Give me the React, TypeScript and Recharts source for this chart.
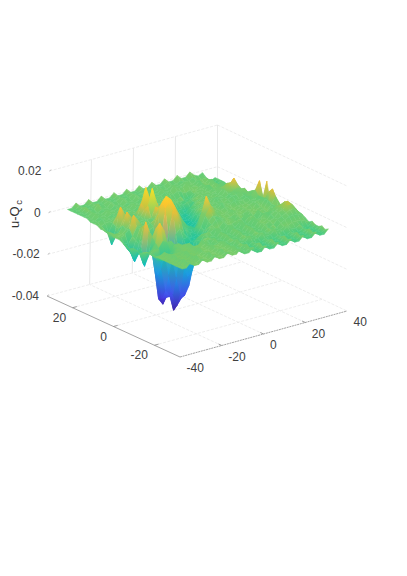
import React from "react";
import { ScatterChart, Scatter, XAxis, YAxis, ReferenceLine } from "recharts";

const W = 407;
const H = 576;

const xValues = [-35,-33,-31,-29,-27,-25,-23,-21,-19,-17,-15,-13,-11,-9,-7,-5,-3,-1,1,3,5,7,9,11,13,15,17,19,21,23,25,27,29,31,33,35];
const yValues = [28.44,26.81,25.19,23.56,21.94,20.31,18.69,17.06,15.44,13.81,12.19,10.56,8.94,7.31,5.69,4.06,2.44,0.81,-0.81,-2.44,-4.06,-5.69,-7.31,-8.94,-10.56,-12.19,-13.81,-15.44,-17.06,-18.69,-20.31,-21.94,-23.56,-25.19,-26.81,-28.44];
// surface height, in thousandths, one row per y value
const zRows = [
[2,2,4,2,2,4,2,2,4,2,2,4,2,2,4,2,2,4,2,2,4,2,2,4,2,2,4,2,2,4,2,1,2,-1,-3,-2],
[2,2,3,2,2,3,2,2,3,2,2,3,2,2,3,2,2,3,2,2,3,2,2,3,1,1,2,1,1,2,0,0,0,-2,-3,-2],
[2,2,3,2,2,3,2,2,3,2,2,3,2,2,3,2,2,3,1,1,2,1,1,2,1,1,2,0,0,1,0,-1,0,-2,-3,-2],
[2,2,4,2,2,4,1,1,3,1,1,3,1,1,3,1,1,3,1,1,3,1,1,3,1,1,3,0,0,2,-1,-1,1,-3,-4,-2],
[2,2,3,1,1,2,1,1,2,1,1,2,1,1,2,1,1,2,1,1,2,1,0,1,0,-1,0,-1,0,1,-1,-1,0,-3,-4,-3],
[2,2,3,1,1,2,1,1,2,1,1,2,1,1,2,1,1,2,1,0,1,-1,-2,-1,-3,-3,-1,0,0,1,-1,-1,0,-3,-4,-3],
[2,1,3,1,1,3,1,1,3,1,1,3,1,1,3,1,1,3,0,0,1,-1,-2,-2,-3,-2,0,0,0,2,0,0,2,-2,-3,-2],
[1,1,2,1,1,2,1,1,2,1,1,2,1,1,2,1,1,1,0,-1,0,-2,-3,-2,-2,-1,0,0,0,1,0,1,2,-3,-4,-3],
[1,1,2,1,1,2,0,0,1,0,1,2,1,1,1,1,0,-1,-2,-3,-3,-4,-5,-4,-2,-1,0,0,0,1,1,2,2,-1,-3,-4],
[1,0,1,1,2,2,1,0,2,1,3,3,1,1,3,0,0,-1,-3,-4,-5,-5,-3,-2,-1,0,1,0,1,3,3,4,3,0,-2,-3],
[0,-1,-3,1,4,3,1,1,2,4,8,5,3,1,1,0,-1,-2,-5,-6,-6,-5,-3,-2,-1,0,0,0,1,3,5,5,3,0,-2,-4],
[0,-2,-8,0,9,5,2,1,2,8,15,9,3,1,1,0,-1,-3,-5,-6,-6,-5,-2,-1,0,0,1,1,1,3,5,8,4,0,-2,-4],
[0,-1,-4,0,4,3,2,2,3,6,9,6,3,1,2,-1,-3,-5,-7,-7,-6,-3,-1,0,0,0,2,1,1,2,3,4,3,0,-2,-3],
[0,-1,-1,2,8,5,2,2,2,8,16,9,4,2,1,0,-2,-4,-6,-7,-6,-3,-1,0,0,1,1,0,1,2,2,3,4,1,-1,-2],
[-1,-1,-1,1,3,3,1,2,3,3,8,4,5,3,2,-1,-3,-5,-7,-7,-5,-2,0,0,0,1,1,0,0,1,1,2,3,3,2,-2],
[-1,-1,0,2,8,5,2,1,2,3,8,11,9,5,3,-1,-4,-5,-6,-7,-5,0,1,-1,0,2,0,0,2,1,1,2,2,4,8,-2],
[-1,-3,-4,-1,3,3,1,0,1,6,11,14,12,8,4,0,-3,-4,-5,-5,-1,1,1,0,0,1,0,-1,0,0,0,1,1,2,0,8],
[-2,-5,-8,-2,3,3,1,-6,-10,-6,9,12,10,4,0,-3,-4,-4,-1,1,1,1,0,-1,-1,0,-1,-1,0,-1,0,1,1,2,1,-1],
[-2,-6,-11,-3,5,2,-6,-20,-28,-18,-2,8,7,2,-2,-4,-5,-2,4,11,6,3,1,-1,0,1,0,-1,0,-1,-1,1,-1,2,5,1],
[-3,-9,-7,0,6,-3,-16,-31,-34,-29,-13,-2,0,-3,-5,-6,-5,-2,3,6,4,2,0,-1,-1,0,-1,-1,0,-1,-1,0,-1,2,7,1],
[-2,-4,-3,9,3,-6,-18,-30,-30,-30,-24,-11,-4,-4,-6,-6,-5,-3,1,3,2,1,0,-1,-2,0,-1,-2,0,-1,-1,0,-1,1,4,0],
[-2,-5,-11,5,2,-4,-14,-25,-28,-36,-33,-20,-7,-5,-5,-5,-4,-1,0,2,2,0,-1,1,-1,-1,1,-1,-1,1,-1,-1,1,1,-1,-1],
[-3,-9,-6,3,7,1,-7,-17,-27,-33,-30,-26,-11,-5,-3,-3,-2,0,-1,-1,1,-1,-1,0,-2,-2,0,-2,-2,0,-2,-1,1,1,1,0],
[-2,-3,-2,1,10,6,-3,-8,-18,-26,-28,-24,-12,-3,-1,-1,-1,0,-2,-2,0,-2,-2,0,-2,-2,0,-2,-1,1,1,2,2,3,1,0],
[-1,-2,-1,-1,2,1,1,-4,-8,-14,-18,-16,-9,-3,0,-2,-2,1,-2,-2,1,-2,-2,1,-2,-2,1,-1,0,2,2,4,4,5,3,1],
[-1,-3,-5,-6,-5,-3,0,0,-3,-7,-10,-9,-5,-1,-1,-2,-2,0,-2,-2,0,-2,-2,0,-2,-2,0,-1,0,2,3,4,5,6,4,1],
[-1,-2,-3,-4,-4,-2,0,0,0,-3,-4,-3,-1,-1,-1,-2,-2,0,-2,-2,0,-2,-2,0,-2,-2,0,-1,0,1,3,4,5,5,3,0],
[-1,-1,0,-2,-2,0,-1,-1,1,-1,-1,1,-2,-2,0,-2,-2,0,-2,-2,0,-2,-2,0,-2,-2,0,-2,-1,1,2,3,4,4,2,0],
[-1,-1,0,-1,-1,0,-1,-1,0,-1,-1,0,-2,-2,-1,-2,-2,-1,-2,-2,-1,-2,-2,-1,-2,-2,-1,-2,-2,0,1,2,2,2,1,-1],
[-1,-1,0,-1,-1,0,-1,-1,0,-1,-1,0,-1,-1,0,-2,-2,-1,-2,-2,-1,-2,-2,-1,-2,-2,-1,-2,-2,-1,-1,0,0,0,-1,-2],
[-1,-1,1,-1,-1,1,-1,-1,1,-1,-1,1,-1,-1,1,-2,-2,0,-2,-2,0,-2,-2,0,-2,-2,0,-2,-2,0,-2,-2,-1,-3,-3,-1],
[-1,-1,0,-1,-1,0,-1,-1,0,-1,-1,0,-1,-1,0,-2,-2,-1,-3,-3,-2,-3,-3,-2,-3,-3,-2,-3,-3,-2,-3,-3,-2,-3,-3,-2],
[-1,-1,0,-1,-1,0,-1,-1,0,-1,-1,0,-1,-1,0,-2,-2,-1,-3,-3,-2,-3,-3,-2,-3,-3,-2,-3,-3,-2,-3,-3,-2,-3,-3,-2],
[-1,-1,1,-1,-1,1,-1,-1,1,-1,-1,1,-1,-1,1,-2,-2,0,-3,-3,-1,-3,-3,-1,-3,-3,-1,-3,-3,-1,-3,-3,-1,-3,-3,-1],
[-1,-1,0,-1,-1,0,-1,-1,0,-1,-1,0,-1,-1,0,-2,-2,-1,-3,-3,-2,-3,-3,-2,-3,-3,-2,-3,-3,-2,-3,-3,-2,-3,-3,-2],
[-1,-1,1,-1,-1,1,-1,-1,1,-1,-1,1,-1,-1,1,-2,-2,0,-3,-3,-1,-3,-3,-1,-3,-3,-1,-3,-3,-1,-3,-3,-1,-3,-3,-1],
];

const xTicks = [-40, -20, 0, 20, 40];
const yTicks = [-20, 0, 20];
const zTicks = [-0.04, -0.02, 0, 0.02];
const zTickLabels = ["-0.04", "-0.02", "0", "0.02"];
const xTickLabels = ["-40", "-20", "0", "20", "40"];
const yTickLabels = ["-20", "0", "20"];
const Y_LOW = -32.5;
const Y_HIGH = 32.5;

const colourLevels = [-36,-30,-24,-18,-12,-7,-3,-1,2,4,5.5,7,9,12,15,17];
const colourStops: number[][] = [
  [62,38,168],[70,60,225],[60,110,245],[30,150,235],[10,185,205],[25,195,165],
  [75,203,128],[120,204,106],[100,205,118],[125,204,105],[175,198,70],[225,190,55],[250,190,50],[254,200,45],[253,215,40],[250,235,30],
];
function colour(zk: number): string {
  let i = 0;
  while (i < colourLevels.length - 2 && zk > colourLevels[i + 1]) i++;
  const f = Math.max(0, Math.min(1, (zk - colourLevels[i]) / (colourLevels[i + 1] - colourLevels[i])));
  const c = colourStops[i].map((v, k) => Math.round(v + (colourStops[i + 1][k] - v) * f));
  return `rgb(${c[0]},${c[1]},${c[2]})`;
}

// floor corners of the plot box in chart coordinates and the height scale
const FRONT = [180, 357];
const RIGHT = [347, 311];
const LEFT = [47, 296];
const BACK = [217.5, 250];
const Z_SCALE = 2083;
function project(x: number, y: number, z: number) {
  const u = (x + 40) / 80;
  const v = (y - Y_LOW) / (Y_HIGH - Y_LOW);
  const bi = (k: number) =>
    FRONT[k] * (1 - u) * (1 - v) + RIGHT[k] * u * (1 - v) + LEFT[k] * (1 - u) * v + BACK[k] * u * v;
  return { sx: bi(0) + (1 - u) * v * (z + 0.04) * 40, sy: bi(1) - (z + 0.04) * Z_SCALE };
}

type Cell = { sx: number; sy: number; d: number[]; zs: number[]; id: string };
const cells: Cell[] = [];
for (let j = 0; j < yValues.length - 1; j++) {
  for (let i = xValues.length - 2; i >= 0; i--) {
    const corners = [[i, j], [i + 1, j], [i + 1, j + 1], [i, j + 1]];
    const zs = corners.map(([a, b]) => zRows[b][a]);
    const pts = corners.map(([a, b]) => project(xValues[a], yValues[b], zRows[b][a] / 1000));
    const d: number[] = [];
    pts.forEach((p) => d.push(p.sx - pts[0].sx, p.sy - pts[0].sy));
    cells.push({ sx: pts[0].sx, sy: pts[0].sy, d, zs, id: `q${i}_${j}` });
  }
}

const QuadShape = (props: any) => {
  const { cx, cy, payload } = props;
  const q: Cell = payload;
  const P = [0, 1, 2, 3].map((n) => [cx + q.d[2 * n], cy + q.d[2 * n + 1]]);
  const path = `M${P.map((p) => `${p[0].toFixed(2)},${p[1].toFixed(2)}`).join("L")}Z`;
  let lo = 0;
  let hi = 0;
  q.zs.forEach((z, n) => {
    if (z < q.zs[lo]) lo = n;
    if (z > q.zs[hi]) hi = n;
  });
  if (q.zs[lo] === q.zs[hi]) {
    const c = colour(q.zs[0]);
    return <path d={path} fill={c} stroke={c} strokeWidth={0.5} />;
  }
  return (
    <g>
      <defs>
        <linearGradient id={q.id} gradientUnits="userSpaceOnUse" x1={P[lo][0]} y1={P[lo][1]} x2={P[hi][0]} y2={P[hi][1]}>
          <stop offset="0" stopColor={colour(q.zs[lo])} />
          <stop offset="1" stopColor={colour(q.zs[hi])} />
        </linearGradient>
      </defs>
      <path d={path} fill={`url(#${q.id})`} stroke={`url(#${q.id})`} strokeWidth={0.5} />
    </g>
  );
};

type Label = { sx: number; sy: number; text: string; anchor: string };
const labels: Label[] = [];
zTicks.forEach((z, k) => {
  const p = project(-40, Y_HIGH, z);
  labels.push({ sx: p.sx - 8, sy: p.sy + 4, text: zTickLabels[k], anchor: "end" });
});
xTicks.forEach((x, k) => {
  const p = project(x, Y_LOW, -0.04);
  labels.push({ sx: p.sx + 6.5, sy: p.sy + 15, text: xTickLabels[k], anchor: "start" });
});
yTicks.forEach((y, k) => {
  const p = project(-40, y, -0.04);
  labels.push({ sx: p.sx - 6.5, sy: p.sy + 14, text: yTickLabels[k], anchor: "end" });
});
const LabelShape = (props: any) => {
  const { cx, cy, payload } = props;
  return (
    <text x={cx} y={cy} textAnchor={payload.anchor} fontSize={12} fill="#404040" fontFamily="'Liberation Sans', Arial, sans-serif">
      {payload.text}
    </text>
  );
};
const titleAnchor = [{ sx: 18.5, sy: 228 }];
const TitleShape = (props: any) => {
  const { cx, cy } = props;
  return (
    <text x={cx} y={cy} transform={`rotate(-90 ${cx} ${cy})`} fontSize={13} fill="#303030" fontFamily="'Liberation Sans', Arial, sans-serif">
      u-Q<tspan fontSize={9.5} dx={1.5} dy={3}>c</tspan>
    </text>
  );
};

const GRID = "#e8e8e8";
type Seg = { a: { sx: number; sy: number }; b: { sx: number; sy: number }; stroke: string; dash?: string; w: number };
const segs: Seg[] = [];
const seg = (a: any, b: any, stroke: string, w: number, dash?: string) => segs.push({ a, b, stroke, w, dash });
const Zb = -0.04;
const Zt = 0.02;
xTicks.slice(1, 4).forEach((x) => {
  seg(project(x, Y_HIGH, Zb), project(x, Y_HIGH, Zt), GRID, 1);
  seg(project(x, Y_LOW, Zb), project(x, Y_HIGH, Zb), GRID, 0.8, "3 1.5");
});
yTicks.forEach((y) => seg(project(-40, y, Zb), project(40, y, Zb), GRID, 0.8, "3 1.5"));
zTicks.forEach((z) => {
  seg(project(-40, Y_HIGH, z), project(40, Y_HIGH, z), GRID, 0.8, "3 1.5");
  seg(project(40, Y_HIGH, z), project(40, Y_LOW, z), GRID, 0.8, "3 1.5");
});
seg(project(40, Y_HIGH, Zb), project(40, Y_HIGH, Zt), GRID, 1);
// axes
seg(project(-40, Y_LOW, Zb), project(40, Y_LOW, Zb), "#8a8a8a", 0.8, "2 0.7");
seg(project(-40, Y_LOW, Zb), project(-40, Y_HIGH, Zb), "#9a9a9a", 0.9);
xTicks.slice(1, 4).forEach((x) => seg(project(x, Y_LOW, Zb), project(x, Y_LOW + 1.6, Zb), "#8a8a8a", 0.8));
yTicks.forEach((y) => seg(project(-40, y, Zb), project(-38, y, Zb), "#8a8a8a", 0.8));
zTicks.forEach((z) => seg(project(-40, Y_HIGH, z), project(-38.6, Y_HIGH + 0.5, z), "#b5b5b5", 0.8));

export default function App() {
  return (
    <div style={{ position: "absolute", left: 0, top: 0, width: W, height: H }}>
      <ScatterChart width={W} height={H} margin={{ top: 0, right: 0, bottom: 0, left: 0 }}>
        <XAxis type="number" dataKey="sx" domain={[0, W]} hide allowDataOverflow />
        <YAxis type="number" dataKey="sy" domain={[0, H]} reversed hide allowDataOverflow />
        {segs.map((s, k) => (
          <ReferenceLine
            key={k}
            segment={[{ x: s.a.sx, y: s.a.sy }, { x: s.b.sx, y: s.b.sy }]}
            stroke={s.stroke}
            strokeWidth={s.w}
            strokeDasharray={s.dash}
            ifOverflow="visible"
          />
        ))}
        <Scatter data={cells} shape={QuadShape} isAnimationActive={false} />
        <Scatter data={labels} shape={LabelShape} isAnimationActive={false} />
        <Scatter data={titleAnchor} shape={TitleShape} isAnimationActive={false} />
      </ScatterChart>
    </div>
  );
}
